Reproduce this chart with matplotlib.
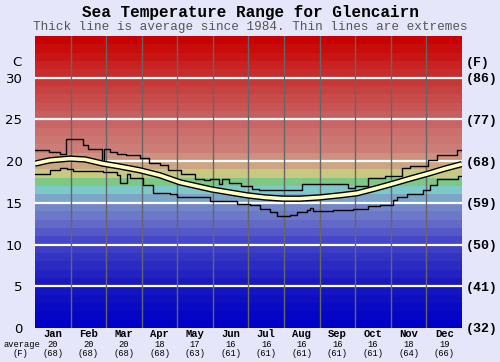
import numpy as np
import matplotlib
matplotlib.use("Agg")
import matplotlib.pyplot as plt
from matplotlib.colors import to_hex

# months positions are in month units: 0 = 1 Jan, 12 = 31 Dec
months = ["Jan", "Feb", "Mar", "Apr", "May", "Jun",
          "Jul", "Aug", "Sep", "Oct", "Nov", "Dec"]
avg_c = [20, 20, 20, 18, 17, 16, 16, 16, 16, 16, 18, 19]
avg_f = [68, 68, 68, 68, 63, 61, 61, 61, 61, 61, 64, 66]

c_ticks = [0, 5, 10, 15, 20, 25, 30]
f_labels = ["(32)", "(41)", "(50)", "(59)", "(68)", "(77)", "(86)"]

# thin upper line: warmest on record (step changes)
max_pos = [0, 0.4, 0.7, 0.88, 1.35, 1.5, 1.88, 1.93, 2.1, 2.3, 2.55, 2.95,
           3.2, 3.5, 3.75, 4.1, 4.5, 4.75, 4.92, 5.18, 5.25, 5.45, 5.8,
           6.1, 6.3, 7.5, 8.4, 8.8, 9.0, 9.36, 9.84, 10.31, 10.54, 11.05,
           11.3, 11.85, 12]
max_temp = [21.3, 21.1, 20.9, 22.6, 21.9, 21.5, 19.8, 21.4, 21.15, 20.9,
            20.7, 20.4, 19.8, 19.5, 18.9, 18.4, 17.9, 17.7, 17.9, 17.3,
            17.9, 17.4, 17.0, 16.7, 16.5, 17.3, 17.2, 16.8, 17.0, 18.0,
            18.2, 19.2, 19.4, 20.1, 20.75, 21.3, 21.3]

# thin lower line: coldest on record
min_pos = [0, 0.42, 0.7, 0.9, 1.07, 1.91, 2.3, 2.39, 2.59, 2.67, 3.04,
           3.32, 3.79, 3.99, 4.92, 5.68, 6.04, 6.32, 6.6, 6.8, 7.17, 7.36,
           7.64, 7.73, 7.81, 8.38, 8.94, 9.36, 9.7, 10.06, 10.17, 10.46,
           10.9, 11.1, 11.3, 11.66, 11.9, 12]
min_temp = [18.5, 18.9, 19.2, 19.0, 18.85, 18.75, 18.3, 17.4, 18.4, 18.0,
            17.1, 16.2, 16.0, 15.65, 15.2, 14.9, 14.8, 14.3, 13.9, 13.4,
            13.6, 13.85, 14.1, 14.4, 14.0, 14.1, 14.3, 14.6, 14.8, 15.3,
            15.7, 16.1, 16.5, 17.1, 17.8, 17.9, 18.2, 18.2]

# thick line: average since 1984
avg_pos = [0, 0.42, 0.98, 1.41, 1.91, 2.39, 2.95, 3.51, 4.08, 4.97, 5.96,
           6.46, 6.97, 7.45, 8.0, 8.57, 9.05, 9.55, 10.06, 10.54, 11.05,
           11.52, 12]
avg_temp = [19.7, 20.1, 20.3, 20.2, 19.7, 19.35, 18.9, 18.3, 17.45, 16.6,
            15.9, 15.65, 15.5, 15.5, 15.65, 15.9, 16.15, 16.7, 17.3, 17.9,
            18.5, 19.1, 19.65]

# colour of each 1 degree band, interpolated between a few anchors
band_anchor_t = [0, 5, 10, 12, 14, 15, 16, 17, 18, 19, 21, 25, 30, 34]
band_anchor_rgb = [(0, 0, 200), (25, 25, 190), (70, 70, 200),
                   (100, 105, 200), (115, 135, 200), (125, 165, 200),
                   (125, 200, 200), (125, 200, 130), (200, 200, 130),
                   (205, 165, 130), (205, 125, 120), (200, 95, 95),
                   (200, 45, 45), (200, 0, 0)]

bg = "#E6E6FA"
mono = "Liberation Mono"

fig = plt.figure(figsize=(5, 3.62), dpi=100, facecolor=bg)
ax = fig.add_axes([0.07, 0.094, 0.854, 0.8066])
ax.set_facecolor(bg)

anchor = np.array(band_anchor_rgb) / 255.0
for t in range(35):
    rgb = [np.interp(t, band_anchor_t, anchor[:, k]) for k in range(3)]
    ax.axhspan(t, t + 1, color=to_hex(rgb), lw=0, zorder=0)

for t in c_ticks[1:]:
    ax.axhline(t, color="white", lw=1.6, zorder=1)
for m in range(1, 12):
    ax.axvline(m, color="#666666", lw=1, zorder=1)

ax.step(max_pos, max_temp, where="post", color="black", lw=1.0, zorder=3)
ax.step(min_pos, min_temp, where="post", color="black", lw=1.0, zorder=3)
ax.plot(avg_pos, avg_temp, color="black", lw=4.6, zorder=4,
        solid_capstyle="butt")
ax.plot(avg_pos, avg_temp, color="#FFFFC0", lw=2.6, zorder=5,
        solid_capstyle="butt")

ax.set_xlim(0, 12)
ax.set_ylim(0, 35)
for s in ax.spines.values():
    s.set_visible(False)
ax.set_xticks([])
ax.set_yticks(c_ticks)
ax.set_yticklabels([str(t) for t in c_ticks], fontsize=9.5,
                   family="DejaVu Sans")
ax.tick_params(axis="y", length=0, pad=9)

ax2 = ax.twinx()
ax2.set_ylim(0, 35)
ax2.set_yticks(c_ticks)
ax2.set_yticklabels(f_labels, fontsize=9.5, family=mono,
                    fontweight="bold")
ax2.tick_params(axis="y", length=0, pad=3)
for s in ax2.spines.values():
    s.set_visible(False)

ax.text(-0.52, 31.8, "C", fontsize=9.5, family="DejaVu Sans",
        ha="center", va="center")
ax.text(12.45, 31.8, "(F)", fontsize=9.5, family=mono,
        fontweight="bold", ha="center", va="center")

xt = ax.get_xaxis_transform()
for i, name in enumerate(months):
    ax.text(i + 0.5, -0.022, name, transform=xt, ha="center", va="center",
            fontsize=7.6, family=mono, fontweight="bold")
    ax.text(i + 0.5, -0.056, str(avg_c[i]), transform=xt, ha="center",
            va="center", fontsize=6.3, family=mono)
    ax.text(i + 0.5, -0.089, "(%d)" % avg_f[i], transform=xt, ha="center",
            va="center", fontsize=6.3, family=mono)
ax.text(-0.37, -0.056, "average", transform=xt, ha="center", va="center",
        fontsize=6.3, family=mono)
ax.text(-0.42, -0.089, "(F)", transform=xt, ha="center", va="center",
        fontsize=6.3, family=mono)

fig.text(0.5, 1 - 12 / 362, "Sea Temperature Range for Glencairn",
         ha="center", va="center", fontsize=11.5, family=mono,
         fontweight="bold")
fig.text(0.5, 1 - 27 / 362,
         "Thick line is average since 1984. Thin lines are extremes",
         ha="center", va="center", fontsize=9.1, family=mono,
         color="#555555")

fig.savefig("out.png", dpi=100, facecolor=bg)
